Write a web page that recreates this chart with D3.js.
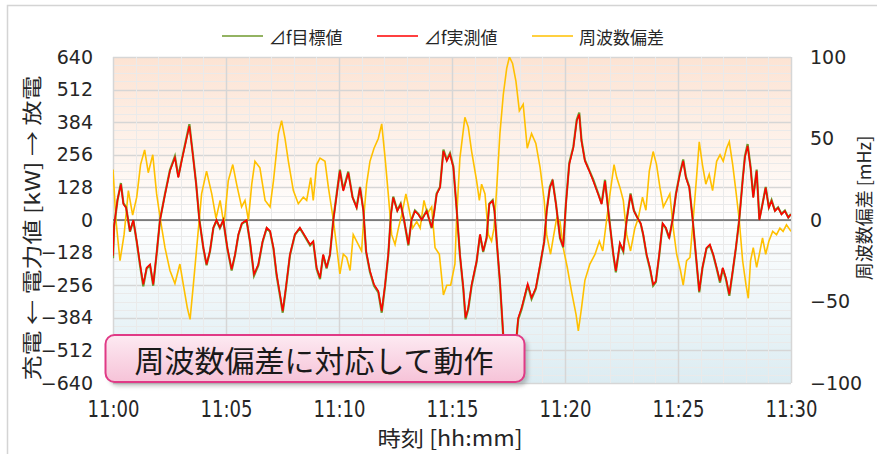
<!DOCTYPE html>
<html>
<head>
<meta charset="utf-8">
<script src="https://cdn.jsdelivr.net/npm/d3@7"></script>
<style>
  body { margin: 0; background: #fff; }
</style>
</head>
<body>
<script>
	// size of the picture
	var w = 877;
	var h = 454;
	var margin = {left: 113, right: 86, top: 57, bottom: 71};

	// series names and colours
	var seriesNames = ["⊿f目標値", "⊿f実測値", "周波数偏差"];
	var seriesColors = ["#6f9a2e", "#ff0000", "#ffc000"];

	// axis ticks
	var kwTicks = [-640, -512, -384, -256, -128, 0, 128, 256, 384, 512, 640];
	var mhzTicks = [-100, -50, 0, 50, 100];
	var minuteTicks = [0, 5, 10, 15, 20, 25, 30];

	// minutes after 11:00 for the power lines
	var powerT = [
		0, 0.05, 0.2, 0.35, 0.46, 0.58, 0.75, 0.9, 1.05, 1.2,
		1.34, 1.49, 1.64, 1.78, 1.93, 2.08, 2.3, 2.52, 2.74, 2.89,
		3.04, 3.23, 3.38, 3.53, 3.68, 3.82, 4.0, 4.14, 4.29, 4.44,
		4.58, 4.73, 4.88, 5.06, 5.25, 5.4, 5.55, 5.7, 5.91, 6.06,
		6.24, 6.43, 6.62, 6.8, 6.95, 7.1, 7.24, 7.39, 7.51, 7.65,
		7.83, 8.05, 8.27, 8.5, 8.72, 8.86, 9.01, 9.16, 9.3, 9.45,
		9.6, 9.75, 9.9, 10.04, 10.19, 10.41, 10.6, 10.78, 10.93, 11.08,
		11.2, 11.37, 11.55, 11.74, 11.89, 12.04, 12.18, 12.3, 12.4, 12.58,
		12.73, 12.88, 13.07, 13.21, 13.36, 13.51, 13.66, 13.88, 14.1, 14.2,
		14.32, 14.47, 14.62, 14.77, 14.91, 15.06, 15.2, 15.35, 15.5, 15.6,
		15.72, 15.87, 16.09, 16.24, 16.38, 16.53, 16.65, 16.8, 16.88, 16.98,
		17.12, 17.23, 17.3, 17.45, 17.6, 17.75, 17.93, 18.08, 18.23, 18.35,
		18.52, 18.71, 18.9, 19.08, 19.19, 19.33, 19.45, 19.6, 19.78, 19.92,
		20.04, 20.19, 20.37, 20.52, 20.63, 20.73, 20.88, 21.07, 21.25, 21.47,
		21.62, 21.77, 21.96, 22.14, 22.25, 22.43, 22.58, 22.73, 22.9, 23.05,
		23.2, 23.35, 23.46, 23.61, 23.76, 23.9, 24.02, 24.17, 24.32, 24.46,
		24.61, 24.76, 24.91, 25.08, 25.23, 25.35, 25.5, 25.65, 25.79, 25.94,
		26.08, 26.26, 26.41, 26.56, 26.71, 26.86, 26.98, 27.12, 27.27, 27.42,
		27.56, 27.71, 27.86, 27.96, 28.08, 28.21, 28.33, 28.48, 28.6, 28.74,
		28.88, 29.02, 29.14, 29.29, 29.43, 29.58, 29.73, 29.88, 30
	];

	// ⊿f目標値 [kW]
	var targetKw = [
		-150, -25, 78, 145, 66, 50, -46, -2, -86, -180,
		-260, -190, -178, -258, -134, 0, 102, 196, 250, 170,
		236, 314, 376, 262, 142, 2, -112, -178, -124, -32,
		-2, -32, -2, -112, -198, -138, -58, -15, -2, -86,
		-218, -178, -86, -32, -46, -112, -218, -298, -364, -270,
		-138, -58, -32, -66, -100, -86, -192, -232, -138, -190,
		-138, 2, 104, 198, 118, 190, 90, 50, 130, 37,
		-126, -204, -258, -284, -364, -258, -138, 24, 92, 37,
		64, -2, -100, 2, 37, 24, 2, 37, -32, 24,
		104, 130, 276, 236, 262, 210, 50, -138, -270, -390,
		-350, -258, -164, -58, -126, -72, 64, 78, 37, -86,
		-244, -402, -505, -596, -626, -566, -390, -350, -298, -254,
		-310, -270, -178, -86, 37, 130, 158, 64, -72, -108,
		64, 224, 288, 394, 422, 314, 236, 196, 158, 104,
		64, 158, 2, -138, -206, -94, -124, 2, 104, 37,
		10, -15, -58, -138, -192, -258, -244, -138, -15, -32,
		-72, 2, 104, 182, 238, 170, 130, 2, -138, -284,
		-190, -112, -100, -138, -190, -246, -190, -232, -298, -204,
		-112, 2, 158, 250, 298, 210, 90, 198, 2, 64,
		130, 50, 78, 37, 50, 24, 37, 10, 24
	];

	// ⊿f実測値 [kW]
	var measuredKw = [
		-140, -20, 80, 140, 62, 48, -43, 0, -83, -174,
		-253, -187, -174, -253, -131, 0, 100, 193, 245, 166,
		232, 310, 369, 258, 140, 0, -109, -174, -122, -30,
		0, -30, 0, -109, -194, -135, -56, -13, 0, -83,
		-213, -174, -83, -30, -43, -109, -213, -292, -358, -266,
		-135, -56, -30, -63, -96, -83, -187, -227, -135, -187,
		-135, 0, 100, 193, 114, 186, 88, 48, 127, 35,
		-122, -200, -253, -279, -358, -253, -135, 22, 88, 35,
		62, 0, -96, 0, 35, 22, 0, 35, -30, 22,
		100, 127, 271, 232, 258, 206, 48, -135, -266, -384,
		-345, -253, -161, -56, -122, -69, 62, 75, 35, -83,
		-240, -397, -500, -590, -620, -560, -384, -345, -292, -250,
		-305, -266, -174, -83, 35, 127, 153, 62, -69, -105,
		62, 219, 284, 389, 415, 310, 232, 193, 153, 100,
		62, 153, 0, -135, -200, -90, -120, 0, 100, 35,
		9, -13, -56, -135, -187, -253, -240, -135, -13, -30,
		-69, 0, 100, 179, 232, 166, 127, 0, -135, -279,
		-187, -109, -96, -135, -187, -240, -187, -227, -292, -200,
		-109, 0, 153, 245, 291, 205, 88, 193, 0, 62,
		127, 48, 75, 35, 48, 22, 35, 9, 22
	];

	// minutes after 11:00 for the frequency line
	var freqT = [
		0, 0.13, 0.31, 0.49, 0.68, 0.87, 1.05, 1.22, 1.4, 1.56,
		1.76, 1.93, 2.1, 2.3, 2.52, 2.74, 2.96, 3.14, 3.29, 3.41,
		3.56, 3.73, 3.92, 4.14, 4.37, 4.56, 4.74, 4.91, 5.1, 5.3,
		5.47, 5.69, 5.84, 5.99, 6.14, 6.28, 6.5, 6.73, 6.95, 7.1,
		7.32, 7.46, 7.61, 7.76, 7.98, 8.2, 8.42, 8.57, 8.75, 8.86,
		9.01, 9.16, 9.38, 9.53, 9.75, 9.9, 10.04, 10.19, 10.34, 10.49,
		10.63, 10.85, 11.0, 11.11, 11.22, 11.37, 11.55, 11.74, 11.89, 12.04,
		12.18, 12.33, 12.48, 12.63, 12.77, 12.96, 13.11, 13.26, 13.44, 13.59,
		13.76, 13.91, 14.1, 14.25, 14.44, 14.62, 14.77, 14.94, 15.13, 15.2,
		15.35, 15.57, 15.72, 15.87, 16.09, 16.21, 16.31, 16.46, 16.61, 16.75,
		16.86, 16.98, 17.12, 17.27, 17.42, 17.54, 17.68, 17.83, 17.98, 18.15,
		18.33, 18.52, 18.71, 18.9, 19.08, 19.19, 19.36, 19.48, 19.63, 19.78,
		19.92, 20.1, 20.29, 20.49, 20.59, 20.73, 20.88, 21.1, 21.33, 21.52,
		21.67, 21.84, 21.99, 22.17, 22.29, 22.43, 22.58, 22.73, 22.9, 23.09,
		23.24, 23.43, 23.58, 23.73, 23.9, 24.05, 24.2, 24.35, 24.5, 24.64,
		24.79, 24.94, 25.11, 25.23, 25.38, 25.53, 25.67, 25.82, 25.94, 26.08,
		26.23, 26.38, 26.53, 26.71, 26.86, 27.0, 27.15, 27.27, 27.42, 27.56,
		27.71, 27.86, 28.01, 28.11, 28.21, 28.33, 28.48, 28.6, 28.74, 28.88,
		29.02, 29.19, 29.36, 29.51, 29.65, 29.8, 30
	];

	// 周波数偏差 [mHz]
	var freqDev = [
		31, 0, -25, -9, 18, 3, 14, 34, 43, 29,
		40, 16, 0, -17, -31, -39, -27, -42, -54, -61,
		-39, -13, 16, 30, 16, 1, 12, -3, 24, 34,
		22, 8, 12, 0, 22, 36, 32, 12, 8, 24,
		53, 61, 50, 36, 18, 10, 14, 12, 26, 12,
		34, 38, 36, 20, 0, -17, -33, -21, -23, -31,
		-9, -15, -19, 4, 22, 36, 44, 50, 59, 38,
		16, -9, -15, -5, 3, 16, 6, -5, -1, -5,
		12, 4, 8, -17, -21, -46, -40, -40, -27, 0,
		38, 63, 57, 42, 24, 12, 22, 16, -9, -13,
		-5, 20, 53, 77, 93, 100, 96, 85, 67, 71,
		44, 53, 47, 32, 12, -9, -21, -11, 1, -1,
		-17, -29, -44, -58, -68, -54, -37, -27, -21, -13,
		-19, 0, 16, 34, 26, 20, 12, -9, -19, -5,
		1, 14, 6, 30, 42, 34, 20, 8, 12, 16,
		-5, -21, -31, -40, -25, -23, 0, 26, 48, 34,
		22, 28, 18, 36, 40, 36, 44, 48, 34, 18,
		0, -25, -40, -48, -25, -17, -29, -21, -11, -21,
		-13, -7, -9, -5, -7, -3, -7
	];

	var numFont = "'DejaVu Sans', sans-serif";
	var jpFont = "'Noto Sans CJK JP', sans-serif";

	var svg = d3.select("body")
				.append("svg")
				.attr("width", w)
				.attr("height", h);

	var defs = svg.append("defs");

	// plot background gradient
	var bg = defs.append("linearGradient")
		.attr("id", "bg")
		.attr("x1", 0).attr("y1", 0).attr("x2", 0).attr("y2", 1);
	bg.append("stop").attr("offset", "0%").attr("stop-color", "#fce3d3");
	bg.append("stop").attr("offset", "50%").attr("stop-color", "#ffffff");
	bg.append("stop").attr("offset", "100%").attr("stop-color", "#dcecf2");

	// callout gradient
	var cg = defs.append("linearGradient")
		.attr("id", "callout")
		.attr("x1", 0).attr("y1", 0).attr("x2", 0).attr("y2", 1);
	cg.append("stop").attr("offset", "0%").attr("stop-color", "#fdeaf2");
	cg.append("stop").attr("offset", "100%").attr("stop-color", "#f6c3d8");

	defs.append("filter").attr("id", "blur")
		.append("feGaussianBlur").attr("stdDeviation", 2);

	defs.append("clipPath").attr("id", "plotclip")
		.append("rect")
		.attr("x", margin.left).attr("y", margin.top)
		.attr("width", w - margin.left - margin.right)
		.attr("height", h - margin.top - margin.bottom);

	// outer frame (left and top only are visible)
	svg.append("path")
		.attr("d", "M7.5,454 V5.5 H877")
		.attr("fill", "none")
		.attr("stroke", "#d4d4d4")
		.attr("stroke-width", 1.5);

	// scales
	var x = d3.scaleLinear().domain([0, 30]).range([margin.left, w - margin.right]);
	var yKw = d3.scaleLinear().domain([-640, 640]).range([h - margin.bottom, margin.top]);
	var yMhz = d3.scaleLinear().domain([-100, 100]).range([h - margin.bottom, margin.top]);

	// background
	svg.append("rect")
		.attr("x", x(0)).attr("y", yKw(640))
		.attr("width", x(30) - x(0))
		.attr("height", yKw(-640) - yKw(640))
		.attr("fill", "url(#bg)");

	// grid lines
	var grid = svg.append("g");
	grid.selectAll(".hminor")
		.data(d3.range(-640, 641, 32))
		.enter()
		.append("line")
		.attr("x1", x(0)).attr("x2", x(30))
		.attr("y1", function(d) { return Math.round(yKw(d)) + 0.5; })
		.attr("y2", function(d) { return Math.round(yKw(d)) + 0.5; })
		.attr("stroke", function(d) { return d % 128 === 0 ? "#d6d6d6" : "#eaeaea"; })
		.attr("stroke-width", function(d) { return d % 128 === 0 ? 1.4 : 1; });
	grid.selectAll(".vminor")
		.data(d3.range(0, 31, 1))
		.enter()
		.append("line")
		.attr("y1", yKw(640)).attr("y2", yKw(-640))
		.attr("x1", function(d) { return Math.round(x(d)) + 0.5; })
		.attr("x2", function(d) { return Math.round(x(d)) + 0.5; })
		.attr("stroke", function(d) { return d % 5 === 0 ? "#d6d6d6" : "#eaeaea"; })
		.attr("stroke-width", function(d) { return d % 5 === 0 ? 1.5 : 1; });

	// zero line
	svg.append("line")
		.attr("x1", x(0)).attr("x2", x(30))
		.attr("y1", yKw(0)).attr("y2", yKw(0))
		.attr("stroke", "#222")
		.attr("stroke-width", 1.2);

	// lines
	var lineKw = d3.line()
		.x(function(d) { return x(d[0]); })
		.y(function(d) { return yKw(d[1]); });
	var lineMhz = d3.line()
		.x(function(d) { return x(d[0]); })
		.y(function(d) { return yMhz(d[1]); });

	var lines = svg.append("g").attr("clip-path", "url(#plotclip)");

	lines.append("path")
		.datum(d3.zip(freqT, freqDev))
		.attr("d", lineMhz)
		.attr("fill", "none")
		.attr("stroke", seriesColors[2])
		.attr("stroke-width", 1.6);

	lines.append("path")
		.datum(d3.zip(powerT, targetKw))
		.attr("d", lineKw)
		.attr("fill", "none")
		.attr("stroke", seriesColors[0])
		.attr("stroke-width", 2.2);

	lines.append("path")
		.datum(d3.zip(powerT, measuredKw))
		.attr("d", lineKw)
		.attr("fill", "none")
		.attr("stroke", seriesColors[1])
		.attr("stroke-width", 1.5);

	// left axis
	var yAxisL = d3.axisLeft(yKw)
		.tickValues(kwTicks)
		.tickSize(0)
		.tickPadding(20);
	var gL = svg.append("g")
		.attr("transform", "translate(" + x(0) + ",0)")
		.call(yAxisL);
	gL.select(".domain").remove();
	gL.selectAll("text")
		.attr("font-family", numFont)
		.attr("font-size", "19px")
		.attr("fill", "#262626");

	// right axis
	var yAxisR = d3.axisRight(yMhz)
		.tickValues(mhzTicks)
		.tickSize(0)
		.tickPadding(19);
	var gR = svg.append("g")
		.attr("transform", "translate(" + x(30) + ",0)")
		.call(yAxisR);
	gR.select(".domain").remove();
	gR.selectAll("text")
		.attr("font-family", numFont)
		.attr("font-size", "19px")
		.attr("fill", "#262626");

	// bottom axis
	var xAxis = d3.axisBottom(x)
		.tickValues(minuteTicks)
		.tickSize(0)
		.tickPadding(18)
		.tickFormat(function(d) { return "11:" + (d < 10 ? "0" + d : d); });
	var gX = svg.append("g")
		.attr("transform", "translate(0," + yKw(-640) + ")")
		.call(xAxis);
	gX.select(".domain").remove();
	gX.selectAll("text")
		.attr("font-family", numFont)
		.attr("font-size", "23px")
		.attr("fill", "#262626")
		.attr("textLength", 52)
		.attr("lengthAdjust", "spacingAndGlyphs");

	// axis titles
	svg.append("text")
		.attr("transform", "translate(31," + 228 + ") rotate(-90)")
		.attr("text-anchor", "middle")
		.attr("dominant-baseline", "central")
		.attr("font-family", jpFont)
		.attr("font-size", "20px")
		.attr("fill", "#262626")
		.attr("textLength", 305)
		.attr("lengthAdjust", "spacingAndGlyphs")
		.text("充電 ← 電力値 [kW] → 放電");

	svg.append("text")
		.attr("transform", "translate(863," + 208 + ") rotate(-90)")
		.attr("text-anchor", "middle")
		.attr("dominant-baseline", "central")
		.attr("font-family", jpFont)
		.attr("font-size", "18px")
		.attr("fill", "#262626")
		.text("周波数偏差 [mHz]");

	svg.append("text")
		.attr("x", 450)
		.attr("y", 446)
		.attr("text-anchor", "middle")
		.attr("font-family", jpFont)
		.attr("font-size", "21px")
		.attr("fill", "#262626")
		.attr("textLength", 145)
		.attr("lengthAdjust", "spacingAndGlyphs")
		.text("時刻 [hh:mm]");

	// legend
	var legend = svg.selectAll(".legend")
		.data(seriesNames)
		.enter()
		.append("g")
		.attr("transform", function(d, i) { return "translate(" + (222 + i * 155) + ",36)"; });
	legend.append("line")
		.attr("x1", 0).attr("x2", 41)
		.attr("y1", 0).attr("y2", 0)
		.attr("stroke", function(d, i) { return seriesColors[i]; })
		.attr("stroke-width", 1.5);
	legend.append("text")
		.attr("x", 47)
		.attr("y", 0)
		.attr("dominant-baseline", "central")
		.attr("font-family", jpFont)
		.attr("font-size", "17px")
		.attr("fill", "#262626")
		.text(function(d) { return d; });

	// callout box
	var callout = svg.append("g");
	callout.append("rect")
		.attr("x", 109).attr("y", 338)
		.attr("width", 419).attr("height", 48)
		.attr("rx", 9)
		.attr("fill", "#777")
		.attr("opacity", 0.45)
		.attr("filter", "url(#blur)");
	callout.append("rect")
		.attr("x", 105.5).attr("y", 335)
		.attr("width", 419).attr("height", 47)
		.attr("rx", 9)
		.attr("fill", "url(#callout)")
		.attr("stroke", "#e03a86")
		.attr("stroke-width", 2);
	callout.append("text")
		.attr("x", 314)
		.attr("y", 359)
		.attr("text-anchor", "middle")
		.attr("dominant-baseline", "central")
		.attr("font-family", jpFont)
		.attr("font-size", "30px")
		.attr("fill", "#1a1a1a")
		.text("周波数偏差に対応して動作");
</script>
</body>
</html>
